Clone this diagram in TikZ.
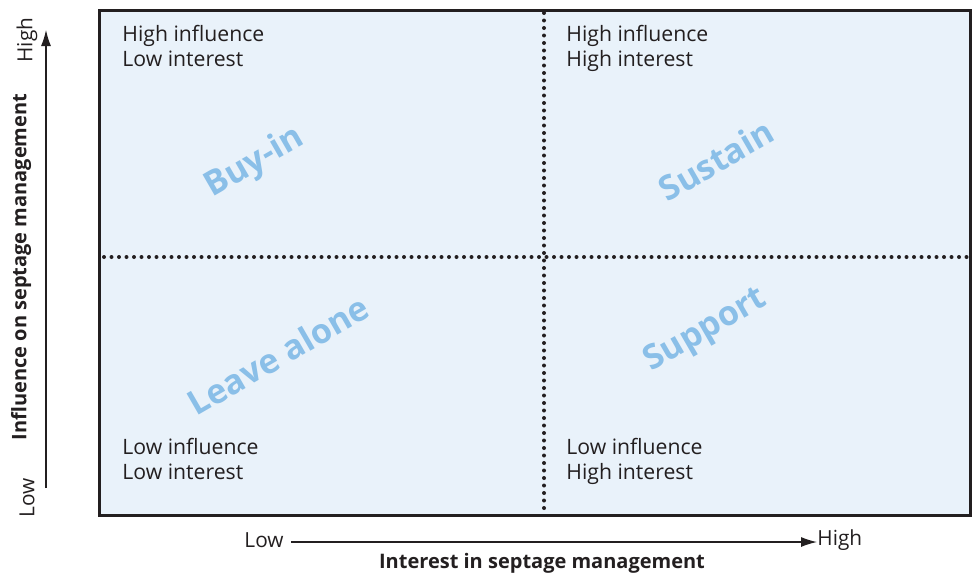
\documentclass[tikz,border=0pt]{standalone}
\usepackage{fontspec}
\setmainfont{Open Sans}
\usetikzlibrary{arrows.meta,positioning}
\definecolor{gridfill}{RGB}{233,242,250}
\definecolor{zonetext}{RGB}{138,191,232}
\definecolor{inkdark}{RGB}{35,31,32}
\begin{document}
\begin{tikzpicture}[
    x=0.5pt, y=-0.5pt,
    corner/.style={anchor=north west, align=left, inner sep=0pt, text=inkdark, font=\fontsize{10.6}{12.6}\selectfont},
    zone/.style={rotate=30, inner sep=0pt, text=zonetext, font=\fontsize{17}{19}\selectfont\bfseries},
    divider/.style={draw=inkdark, line width=2pt, dash pattern=on 0pt off 3.75pt, line cap=round},
    axis/.style={draw=inkdark, line width=0.6pt, -{Latex[length=8pt,width=5pt]}},
    scalelabel/.style={inner sep=0pt, text=inkdark, font=\fontsize{10.4}{12}\selectfont},
    axistitle/.style={inner sep=0pt, text=inkdark, font=\fontsize{10}{12}\selectfont\bfseries}
]
\useasboundingbox (0,0) rectangle (972,574);
% Grid
\draw[draw=inkdark, fill=gridfill, line width=1.5pt] (99.5,10.5) rectangle (970.5,515.5);
\coordinate (midtop) at (544,13);
\coordinate (midbottom) at (544,514);
\coordinate (midleft) at (104,257);
\coordinate (midright) at (968,257);
\draw[divider] (midtop) -- (midbottom);
\draw[divider] (midleft) -- (midright);
% Quadrant notes
\node[corner] (tlnote) at (122,25) {High influence\\Low interest};
\node[corner] (trnote) at (566,25) {High influence\\High interest};
\node[corner] (blnote) at (122,438) {Low influence\\Low interest};
\node[corner] (brnote) at (566,438) {Low influence\\High interest};
% Strategies
\node[zone] (buyin) at (255,163) {Buy-in};
\node[zone] (sustain) at (716,160) {Sustain};
\node[zone] (leave) at (278,355) {Leave alone};
\node[zone] (support) at (706,331) {Support};
% Vertical axis
\coordinate (ylow) at (46,488);
\coordinate (yhigh) at (46,30);
\draw[axis] (ylow) -- (yhigh);
\node[scalelabel, rotate=90] (yhighlabel) at (27,40) {High};
\node[scalelabel, rotate=90] (ylowlabel) at (27,498) {Low};
\node[axistitle, rotate=90] (ytitle) at (21,267) {Influence on septage management};
% Horizontal axis
\node[scalelabel, anchor=east] (xlowlabel) at (284,540) {Low};
\node[scalelabel, anchor=west] (xhighlabel) at (817,540) {High};
\draw[axis] (xlowlabel.east) ++(7,2) coordinate (xlow) -- (xhighlabel.west |- xlow);
\node[axistitle] (xtitle) at (542,563) {Interest in septage management};
\end{tikzpicture}
\end{document}
